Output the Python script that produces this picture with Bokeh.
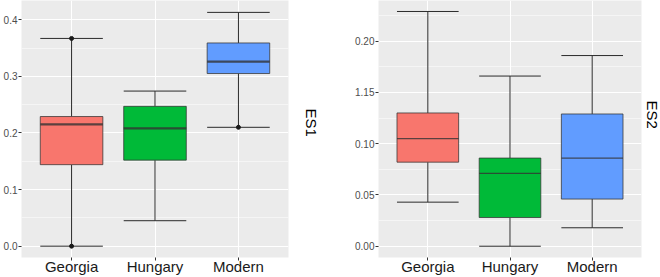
from bokeh.plotting import figure
from bokeh.layouts import row
from bokeh.models import Range1d, FixedTicker, Title
from bokeh.embed import file_html
from bokeh.resources import INLINE

categories = ["Georgia", "Hungary", "Modern"]
colors = ["#F8766D", "#00BA38", "#619CFF"]

# ES1 box statistics
es1_low = [0.0, 0.045, 0.210]
es1_q1 = [0.144, 0.152, 0.305]
es1_med = [0.215, 0.208, 0.326]
es1_q3 = [0.229, 0.247, 0.359]
es1_high = [0.367, 0.274, 0.413]
es1_pt_cat = ["Georgia", "Georgia", "Modern"]
es1_pt_val = [0.367, 0.0, 0.210]
es1_ticks = [0.0, 0.1, 0.2, 0.3, 0.4]
es1_tick_labels = ["0.0", "0.1", "0.2", "0.3", "0.4"]
es1_minor = [0.05, 0.15, 0.25, 0.35]

# ES2 box statistics
es2_low = [0.043, 0.0, 0.018]
es2_q1 = [0.082, 0.028, 0.046]
es2_med = [0.105, 0.071, 0.086]
es2_q3 = [0.130, 0.086, 0.129]
es2_high = [0.229, 0.166, 0.186]
es2_ticks = [0.0, 0.05, 0.10, 0.15, 0.20]
es2_tick_labels = ["0.00", "0.05", "0.10", "1.15", "0.20"]
es2_minor = [0.025, 0.075, 0.125, 0.175, 0.225]

FONT = "Liberation Sans"


def panel(low, q1, med, q3, high, ticks, tick_labels, minor, yr, title,
          fw, bl, br, med_w, t_standoff, t_offset, pts=None):
    xs = [categories.index(c) + 1 for c in categories]
    p = figure(frame_width=fw, frame_height=257, x_range=Range1d(0.4, 3.6),
               y_range=Range1d(*yr), output_backend="svg", toolbar_location=None,
               min_border_left=bl, min_border_right=br, min_border_top=0,
               min_border_bottom=19)
    p.background_fill_color = "#EBEBEB"
    p.border_fill_color = "white"
    p.outline_line_color = None

    # axes
    p.xaxis.ticker = FixedTicker(ticks=xs)
    p.xaxis.major_label_overrides = {x: c for x, c in zip(xs, categories)}
    p.yaxis.ticker = FixedTicker(ticks=ticks, minor_ticks=minor)
    p.yaxis.major_label_overrides = {t: l for t, l in zip(ticks, tick_labels)}
    for ax in (p.xaxis, p.yaxis):
        ax.axis_line_color = None
        ax.major_tick_in = 0
        ax.major_tick_out = 3
        ax.minor_tick_in = 0
        ax.minor_tick_out = 0
        ax.major_tick_line_color = "#333333"
        ax.major_label_text_font = FONT
    p.xaxis.major_label_text_font_size = "15px"
    p.xaxis.major_label_text_color = "#1A1A1A"
    p.xaxis.major_label_standoff = -3
    p.yaxis.major_label_text_font_size = "10px"
    p.yaxis.major_label_text_color = "#4D4D4D"
    p.yaxis.major_label_standoff = 1

    # grid
    p.xgrid.ticker = FixedTicker(ticks=xs)
    p.xgrid.grid_line_color = "white"
    p.xgrid.grid_line_width = 1.1
    p.ygrid.grid_line_color = "white"
    p.ygrid.grid_line_width = 1.1
    p.ygrid.minor_grid_line_color = "white"
    p.ygrid.minor_grid_line_width = 0.5

    # whiskers
    p.segment(xs, q3, xs, high, line_color="#2A2A2A", line_width=1)
    p.segment(xs, low, xs, q1, line_color="#2A2A2A", line_width=1)
    cap_l = [x - 0.375 for x in xs]
    cap_r = [x + 0.375 for x in xs]
    p.segment(cap_l, high, cap_r, high, line_color="#2A2A2A", line_width=1)
    p.segment(cap_l, low, cap_r, low, line_color="#2A2A2A", line_width=1)

    # boxes
    p.vbar(x=xs, width=0.75, bottom=q1, top=q3, fill_color=colors,
           line_color="#333333", line_alpha=0.75, line_width=1)
    p.segment(cap_l, med, cap_r, med, line_color="#333333", line_alpha=0.8,
              line_width=med_w)

    if pts is not None:
        pc, pv = pts
        p.scatter([categories.index(c) + 1 for c in pc], pv, size=4,
                  fill_color="#1A1A1A", line_color="#1A1A1A")

    t = Title(text=title, align="left", text_font=FONT,
              text_font_size="15px", text_font_style="normal",
              text_color="black", standoff=t_standoff, offset=t_offset)
    p.add_layout(t, "right")
    return p


p1 = panel(es1_low, es1_q1, es1_med, es1_q3, es1_high, es1_ticks,
           es1_tick_labels, es1_minor, (-0.02, 0.434), "ES1",
           267, 20, 43, 2.2, 28, 108, pts=(es1_pt_cat, es1_pt_val))
p2 = panel(es2_low, es2_q1, es2_med, es2_q3, es2_high, es2_ticks,
           es2_tick_labels, es2_minor, (-0.011, 0.2397), "ES2",
           263, 43, 18, 1.3, 4, 100)

p = row(p1, p2)
open("out.html", "w").write(file_html(p, INLINE))
